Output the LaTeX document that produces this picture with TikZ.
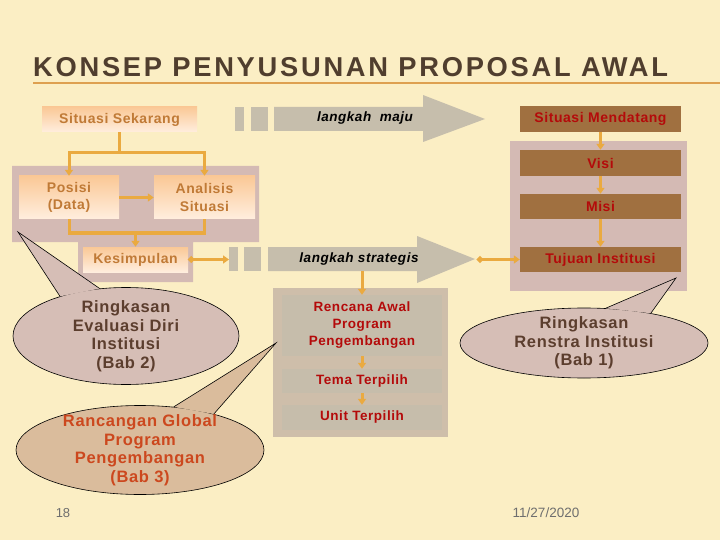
\documentclass[tikz,border=0pt]{standalone}
\usepackage{fontspec}
\setmainfont{Liberation Sans}
\newfontfamily\spaced[LetterSpace=4]{Liberation Sans}
\newfontfamily\titlefont[LetterSpace=10]{Liberation Sans}
\usetikzlibrary{shapes.geometric,arrows.meta}

\definecolor{bgcol}{RGB}{251,238,196}
\definecolor{titlecol}{RGB}{80,62,46}
\definecolor{titleline}{RGB}{222,160,80}
\definecolor{mauve}{RGB}{212,186,180}
\definecolor{peachdark}{RGB}{250,200,150}
\definecolor{peachlight}{RGB}{255,238,222}
\definecolor{peachtext}{RGB}{192,122,54}
\definecolor{boxbrown}{RGB}{160,112,64}
\definecolor{redtext}{RGB}{180,10,10}
\definecolor{orangeline}{RGB}{234,170,64}
\definecolor{arrowgray}{RGB}{198,190,172}
\definecolor{rencpanel}{RGB}{206,190,170}
\definecolor{rencbox}{RGB}{198,189,171}
\definecolor{callmauve}{RGB}{214,190,182}
\definecolor{calltan}{RGB}{218,188,156}
\definecolor{calltext}{RGB}{92,62,46}
\definecolor{callorange}{RGB}{204,72,30}
\definecolor{footgray}{RGB}{110,110,110}

\begin{document}
\begin{tikzpicture}[x=1pt,y=-1pt,
	peachbox/.style={rectangle, top color=peachdark, bottom color=peachlight, inner sep=0pt, text=peachtext, align=center, font=\spaced\bfseries\fontsize{14}{17.5}\selectfont},
	brownbox/.style={rectangle, fill=boxbrown, inner sep=0pt, minimum width=161pt, text=redtext, font=\spaced\bfseries\fontsize{14}{17}\selectfont},
	graybox/.style={rectangle, fill=rencbox, inner sep=0pt, minimum width=160pt, text=redtext, align=center, font=\spaced\bfseries\fontsize{13.5}{17}\selectfont},
	steplabel/.style={font=\spaced\bfseries\itshape\fontsize{13.5}{15}\selectfont, text=black},
	link/.style={color=orangeline, line width=3pt},
	conn/.style={link, -{Triangle[length=6pt,width=8pt]}},
	dotconn/.style={link, {Circle[length=6pt]}-{Triangle[length=6pt,width=8pt]}},
	callout/.style={ellipse, draw=black, line width=0.6pt, inner sep=-10pt, align=center, font=\spaced\bfseries\fontsize{16.5}{18.5}\selectfont},
	pointer/.style={draw=black, line width=0.6pt}]

	\useasboundingbox (0,0) rectangle (720,540);
	\fill[bgcol] (0,0) rectangle (720,540);

	\node 	(judul)		at	(33,77) 	[anchor=base west, inner sep=0pt, text=titlecol, font=\titlefont\bfseries\fontsize{27.3}{32}\selectfont]{KONSEP PENYUSUNAN PROPOSAL AWAL};
	\draw[titleline, line width=1.8pt] (33,83) -- (720,83);

	% panels
	\fill[mauve] (12,166) -- (259,166) -- (259,242) -- (193,242) -- (193,282) -- (78,282) -- (78,242) -- (12,242) -- cycle;
	\fill[mauve] (510,141) rectangle (687,291);
	\fill[rencpanel] (273,288) rectangle (448,437);

	% gray step arrows
	\fill[arrowgray] (235,107) rectangle (244,131);
	\fill[arrowgray] (251,107) rectangle (268,131);
	\fill[arrowgray] (274,107) -- (423,107) -- (423,95) -- (485,119) -- (423,142) -- (423,131) -- (274,131) -- cycle;
	\node 	(maju)		at	(365,118) 	[steplabel]{langkah \ maju};

	\fill[arrowgray] (229,247) rectangle (238,271);
	\fill[arrowgray] (244,247) rectangle (261,271);
	\fill[arrowgray] (268,247) -- (417,247) -- (417,236) -- (475,259) -- (417,283) -- (417,271) -- (268,271) -- cycle;
	\node 	(strategis)	at	(359,259) 	[steplabel]{langkah strategis};

	\coordinate (strastart) at (229,259.5);
	\coordinate (stratip)   at (477,259.5);
	\coordinate (stratbot)  at (362,271);
	\coordinate (split)     at (119.5,153);
	\coordinate (join)      at (135.5,233);

	% boxes
	\node 	(sek)		at	(119.5,119.5) 	[peachbox, minimum width=155pt, minimum height=25pt]{Situasi Sekarang};
	\node 	(posisi)	at	(69,197.5) 	[peachbox, minimum width=100pt, minimum height=43pt]{Posisi\\(Data)};
	\node 	(analisis)	at	(204.5,197.5) 	[peachbox, minimum width=101pt, minimum height=43pt]{Analisis\\Situasi};
	\node 	(kesimp)	at	(135.5,259.5) 	[peachbox, minimum width=105pt, minimum height=25pt]{Kesimpulan};

	\node 	(mendatang)	at	(600.5,119) 	[brownbox, minimum height=26pt]{Situasi Mendatang};
	\node 	(visi)		at	(600.5,163) 	[brownbox, minimum height=26pt]{Visi};
	\node 	(misi)		at	(600.5,206.5) 	[brownbox, minimum height=25pt]{Misi};
	\node 	(tujuan)	at	(600.5,259.5) 	[brownbox, minimum height=25pt]{Tujuan Institusi};

	\node 	(rencana)	at	(362,325.5) 	[graybox, minimum height=61pt]{Rencana Awal\\Program\\Pengembangan};
	\node 	(tema)		at	(362,381) 	[graybox, minimum height=24pt]{Tema Terpilih};
	\node 	(unit)		at	(362,417.5) 	[graybox, minimum height=25pt]{Unit Terpilih};

	% connectors
	\draw[link] 	(sek) 		to 	(split);
	\draw[conn] 	(split) 	-| 	(posisi);
	\draw[conn] 	(split) 	-| 	(analisis);
	\draw[conn] 	(posisi) 	to 	(analisis);
	\draw[link] 	(posisi) 	|- 	(join);
	\draw[link] 	(analisis) 	|- 	(join);
	\draw[conn] 	(join) 		to 	(kesimp);
	\draw[dotconn] 	(kesimp) 	to 	(strastart);

	\draw[conn] 	(mendatang) 	to 	(visi);
	\draw[conn] 	(visi) 		to 	(misi);
	\draw[conn] 	(misi) 		to 	(tujuan);
	\draw[dotconn] 	(stratip) 	to 	(tujuan);

	\draw[conn] 	(stratbot) 	to 	(rencana);
	\draw[conn] 	(rencana) 	to 	(tema);
	\draw[conn] 	(tema) 		to 	(unit);

	% callouts
	\node 	(ell1)		at	(126,336) 	[callout, fill=callmauve, text=calltext, minimum width=226pt, minimum height=97pt]{Ringkasan\\Evaluasi Diri\\Institusi\\(Bab 2)};
	\coordinate (tip1) at (18,232);
	\fill[callmauve] (ell1.149) -- (tip1) -- (ell1.119) -- cycle;
	\draw[pointer] (ell1.149) -- (tip1) -- (ell1.119);

	\node 	(ell2)		at	(140,450) 	[callout, fill=calltan, text=callorange, minimum width=248pt, minimum height=89pt]{Rancangan Global\\Program\\Pengembangan\\(Bab 3)};
	\coordinate (tip2) at (276,343);
	\fill[calltan] (ell2.52) -- (tip2) -- (ell2.26) -- cycle;
	\draw[pointer] (ell2.52) -- (tip2) -- (ell2.26);

	\node 	(ell3)		at	(584,343) 	[callout, fill=callmauve, text=calltext, minimum width=248pt, minimum height=70pt]{Ringkasan\\Renstra Institusi\\(Bab 1)};
	\coordinate (tip3) at (676,278);
	\fill[callmauve] (ell3.58) -- (tip3) -- (ell3.24) -- cycle;
	\draw[pointer] (ell3.58) -- (tip3) -- (ell3.24);

	% footer
	\node 	(hal)		at	(63,513) 	[text=footgray, font=\fontsize{13}{15}\selectfont]{18};
	\node 	(tgl)		at	(546,513) 	[text=footgray, font=\fontsize{13.5}{15}\selectfont]{11/27/2020};

\end{tikzpicture}
\end{document}
